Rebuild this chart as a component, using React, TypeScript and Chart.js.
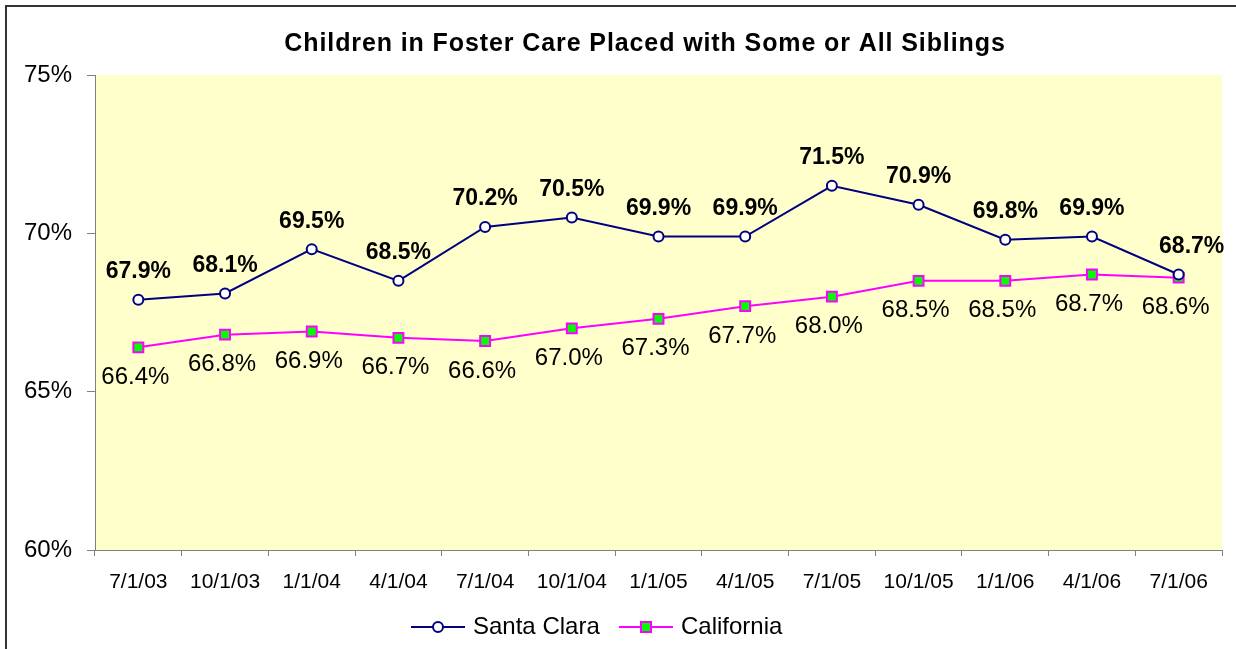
import React, { useEffect, useRef } from "react";
import { Chart, registerables } from "chart.js";

Chart.register(...registerables);

const categories = ["7/1/03", "10/1/03", "1/1/04", "4/1/04", "7/1/04", "10/1/04", "1/1/05", "4/1/05", "7/1/05", "10/1/05", "1/1/06", "4/1/06", "7/1/06"];
const santaClara = [67.9, 68.1, 69.5, 68.5, 70.2, 70.5, 69.9, 69.9, 71.5, 70.9, 69.8, 69.9, 68.7];
const california = [66.4, 66.8, 66.9, 66.7, 66.6, 67.0, 67.3, 67.7, 68.0, 68.5, 68.5, 68.7, 68.6];
const yTicks = [60, 65, 70, 75];
const titleText = "Children in Foster Care Placed with Some or All Siblings";

const FONT = "Arial, 'Liberation Sans', sans-serif";

const decorPlugin = {
  id: "decor",
  beforeDraw(chart: any) {
    const { ctx, chartArea } = chart;
    ctx.save();
    ctx.fillStyle = "#ffffff";
    ctx.fillRect(0, 0, chart.width, chart.height);
    ctx.fillStyle = "#FFFFCC";
    ctx.fillRect(chartArea.left, chartArea.top, chartArea.right - chartArea.left, chartArea.bottom - chartArea.top);
    ctx.strokeStyle = "#333333";
    ctx.lineWidth = 2;
    ctx.strokeRect(6, 6, chart.width + 20, chart.height + 20);
    ctx.restore();
  },
  afterDraw(chart: any) {
    const { ctx, chartArea } = chart;
    ctx.save();
    // title
    ctx.fillStyle = "#000";
    ctx.font = `bold 25px ${FONT}`;
    ctx.textAlign = "center";
    ctx.textBaseline = "middle";
    try { (ctx as any).letterSpacing = "0.9px"; } catch (e) {}
    ctx.fillText(titleText, 645, 44);
    try { (ctx as any).letterSpacing = "0px"; } catch (e) {}

    // data labels
    const m0 = chart.getDatasetMeta(0);
    const m1 = chart.getDatasetMeta(1);
    ctx.font = `bold 23px ${FONT}`;
    m0.data.forEach((pt: any, i: number) => {
      const txt = santaClara[i].toFixed(1) + "%";
      const w = ctx.measureText(txt).width;
      let x = pt.x;
      if (i === m0.data.length - 1) x = pt.x + 13;
      if (x + w / 2 > chart.width - 8) x = chart.width - 8 - w / 2;
      ctx.fillText(txt, x, pt.y - 28);
    });
    ctx.font = `24px ${FONT}`;
    m1.data.forEach((pt: any, i: number) => {
      const txt = california[i].toFixed(1) + "%";
      ctx.fillText(txt, pt.x - 3, pt.y + 30);
    });

    // legend
    const ly = 627;
    const items = [
      { x: 411, label: "Santa Clara", ds: chart.data.datasets[0] },
      { x: 619, label: "California", ds: chart.data.datasets[1] },
    ];
    ctx.font = `24px ${FONT}`;
    ctx.textAlign = "left";
    items.forEach((it) => {
      ctx.strokeStyle = it.ds.borderColor;
      ctx.lineWidth = 2;
      ctx.beginPath();
      ctx.moveTo(it.x, ly);
      ctx.lineTo(it.x + 54, ly);
      ctx.stroke();
      ctx.fillStyle = it.ds.pointBackgroundColor;
      ctx.strokeStyle = it.ds.pointBorderColor;
      ctx.lineWidth = 2;
      ctx.beginPath();
      if (it.ds.pointStyle === "rect") {
        ctx.rect(it.x + 22, ly - 5, 10, 10);
      } else {
        ctx.arc(it.x + 27, ly, 5, 0, Math.PI * 2);
      }
      ctx.fill();
      ctx.stroke();
      ctx.fillStyle = "#000";
      ctx.fillText(it.label, it.x + 62, ly);
    });
    ctx.restore();
  },
};

export default function App() {
  const ref = useRef<HTMLCanvasElement>(null);
  useEffect(() => {
    if (!ref.current) return;
    const chart = new Chart(ref.current, {
      type: "line",
      data: {
        labels: categories,
        datasets: [
          {
            label: "Santa Clara",
            data: santaClara,
            borderColor: "#000080",
            borderWidth: 2,
            pointStyle: "circle",
            pointRadius: 5,
            pointBackgroundColor: "#ffffff",
            pointBorderColor: "#000080",
            pointBorderWidth: 2,
            tension: 0,
          },
          {
            label: "California",
            data: california,
            borderColor: "#FF00FF",
            borderWidth: 2,
            pointStyle: "rect",
            pointRadius: 7,
            pointBackgroundColor: "#00FF00",
            pointBorderColor: "#FF00FF",
            pointBorderWidth: 2,
            tension: 0,
          },
        ],
      },
      options: {
        responsive: false,
        animation: false,
        layout: { padding: { left: 0, top: 75, right: 14, bottom: 0 } },
        plugins: {
          legend: { display: false },
          title: { display: false },
          tooltip: { enabled: false },
        },
        scales: {
          x: {
            offset: true,
            grid: { offset: true, drawOnChartArea: false, color: "#808080", tickLength: 6 },
            border: { color: "#808080", width: 1 },
            ticks: { color: "#000", font: { family: FONT, size: 21 }, padding: 14, maxRotation: 0, autoSkip: false },
            afterFit: (s: any) => { s.height = 99; },
          },
          y: {
            min: 60,
            max: 75,
            afterBuildTicks: (s: any) => { s.ticks = yTicks.map((v) => ({ value: v })); },
            grid: { drawOnChartArea: false, color: "#808080", tickLength: 8 },
            border: { color: "#808080", width: 1 },
            ticks: { color: "#000", font: { family: FONT, size: 24 }, padding: 15, callback: (v: any) => v + "%" },
            afterFit: (s: any) => { s.width = 95; },
          },
        },
      },
      plugins: [decorPlugin],
    });
    return () => chart.destroy();
  }, []);
  return (
    <div style={{ position: "fixed", left: 0, top: 0, width: 1236, height: 649 }}>
      <canvas ref={ref} width={1236} height={649} style={{ display: "block" }} />
    </div>
  );
}
